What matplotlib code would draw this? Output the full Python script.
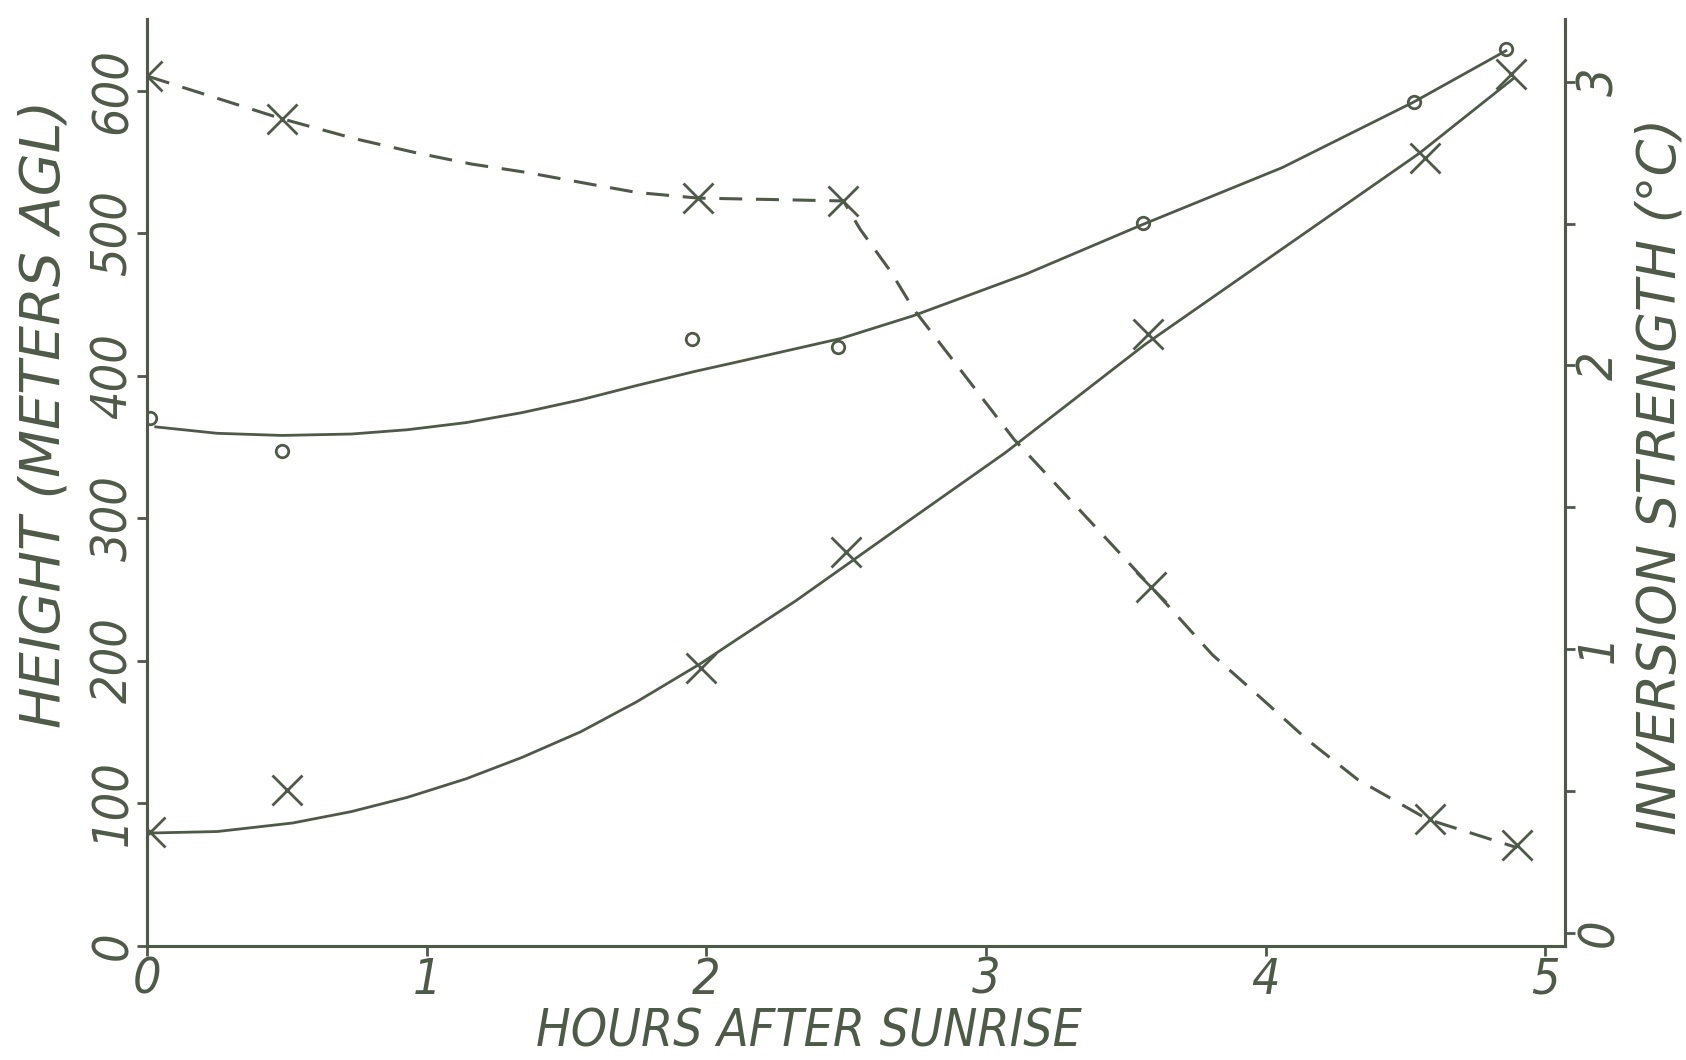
import numpy as np
import matplotlib.pyplot as plt

# plotted points (hours after sunrise)
hours_o = [0.01, 0.48, 1.95, 2.47, 3.56, 4.53, 4.86]
height_o = [370, 347, 426, 420, 507, 592, 629]

hours_x = [0.01, 0.5, 1.98, 2.5, 3.58, 4.57, 4.88]
height_x = [80, 109, 195, 276, 429, 553, 612]

hours_inv = [0.0, 0.48, 1.97, 2.49, 3.59, 4.59, 4.9]
strength_inv = [3.02, 2.87, 2.59, 2.58, 1.22, 0.40, 0.31]

# hand-drawn curves
curve_o_hours = [0.03, 0.25, 0.48, 0.73, 0.93, 1.14, 1.34, 1.55, 1.75, 1.96,
                 2.12, 2.48, 2.74, 3.14, 3.56, 4.06, 4.53, 4.86]
curve_o_height = [364, 359.5, 358, 359, 362, 367, 374, 383, 393, 403,
                  410, 426, 442, 471, 506, 546, 592, 628]

curve_x_hours = [0.02, 0.25, 0.52, 0.73, 0.93, 1.14, 1.34, 1.55, 1.75, 1.98,
                 2.11, 2.32, 2.5, 2.73, 3.07, 3.57, 4.06, 4.55, 4.89]
curve_x_height = [79, 80, 86, 94, 104, 117, 132, 150, 171, 198,
                  215, 242, 267, 299, 346, 422, 489, 556, 609]

curve_inv_hours = [0.0, 0.48, 0.74, 0.96, 1.16, 1.36, 1.58, 1.75, 1.97, 2.49,
                   2.55, 2.66, 2.74, 3.10, 3.59, 3.81, 3.97, 4.15, 4.33, 4.58, 4.9]
curve_inv_strength = [3.02, 2.87, 2.80, 2.75, 2.71, 2.68, 2.64, 2.61, 2.59, 2.58,
                      2.48, 2.33, 2.20, 1.74, 1.22, 0.98, 0.84, 0.68, 0.54, 0.40, 0.30]

ink = '#4e5a48'
plt.rcParams['font.family'] = ['DejaVu Sans']
plt.rcParams['font.style'] = 'italic'
plt.rcParams['font.stretch'] = 'condensed'
fs = 36

fig = plt.figure(figsize=(16.86, 10.6), dpi=100)
ax = fig.add_axes([0.0874, 0.108, 0.8406, 0.8737])
ax2 = ax.twinx()

ax.plot(curve_o_hours, curve_o_height, color=ink, lw=2)
ax.plot(curve_x_hours, curve_x_height, color=ink, lw=2)
ax.plot(hours_o, height_o, ls='none', marker='o', ms=9, mfc='none', mec=ink, mew=2)
ax.plot(hours_x, height_x, ls='none', marker='x', ms=22, mec=ink, mew=2)

ax2.plot(curve_inv_hours, curve_inv_strength, color=ink, lw=2.2, dashes=(7.5, 4.5))
ax2.plot(hours_inv, strength_inv, ls='none', marker='x', ms=22, mec=ink, mew=2)

ax.set_xlim(0, 5.07)
ax.set_ylim(0, 650)
ax2.set_ylim(-0.045, 3.22)

ax.set_xticks([0, 1, 2, 3, 4, 5])
ax.set_yticks([0, 100, 200, 300, 400, 500, 600])
ax2.set_yticks([0, 1, 2, 3])
ax2.set_yticks([0.5, 1.5, 2.5], minor=True)

for a in (ax, ax2):
    a.spines['top'].set_visible(False)
    for s in a.spines.values():
        s.set_color(ink)
        s.set_linewidth(2.2)
    a.tick_params(which='both', direction='out', length=7, width=2, color=ink,
                  labelcolor=ink, labelsize=fs, pad=0.5)

for lab in ax.get_yticklabels():
    lab.set_rotation(90)
    lab.set_va('center')
for lab in ax2.get_yticklabels():
    lab.set_rotation(90)
    lab.set_va('center')

ax.set_xlabel('HOURS AFTER SUNRISE', fontsize=37, color=ink)
ax.set_ylabel('HEIGHT (METERS AGL)', fontsize=40, fontstretch='normal', color=ink)
ax2.set_ylabel('INVERSION STRENGTH (°C)', fontsize=38, fontstretch='normal', color=ink)
ax.xaxis.set_label_coords(0.467, -0.067)
ax.yaxis.set_label_coords(-0.054, 0.574)
ax2.yaxis.set_label_coords(1.049, 0.506)

fig.savefig('out.png', dpi=100, facecolor='white')
